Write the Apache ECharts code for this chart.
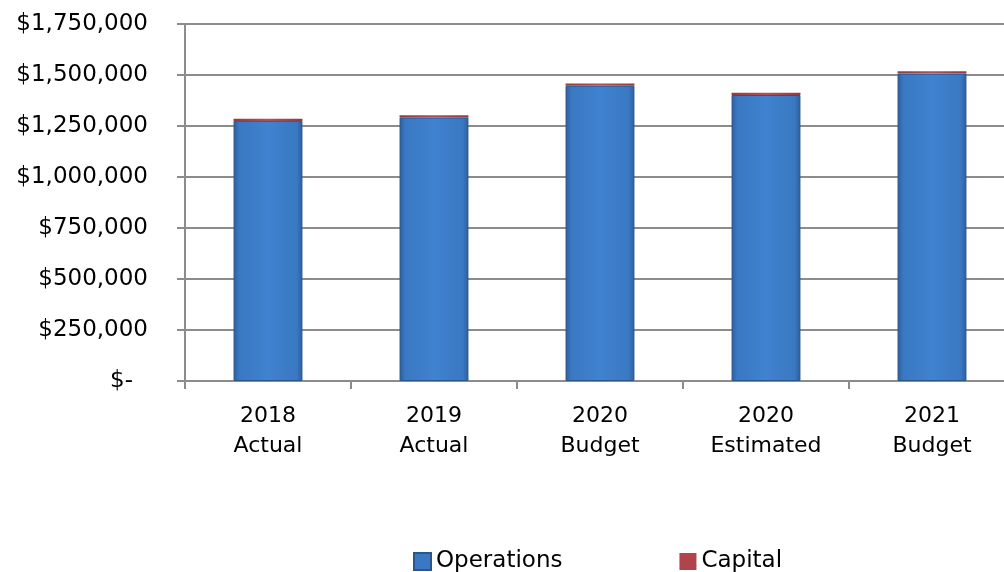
<!DOCTYPE html>
<html>
<head>
<meta charset="utf-8">
<script src="https://cdn.jsdelivr.net/npm/echarts@6/dist/echarts.min.js"></script>
<style>
  html, body { margin: 0; padding: 0; background: #fff; overflow: hidden; }
  #chart { width: 1015px; height: 572px; }
</style>
</head>
<body>
<div id="chart"></div>
<script>
const categories = ['2018\nActual', '2019\nActual', '2020\nBudget', '2020\nEstimated', '2021\nBudget'];
const operations = [1275000, 1292000, 1447000, 1402000, 1507000];
const capital = [10000, 11000, 11000, 11000, 11000];

const yMax = 1750000;
const yStep = 250000;

const chart = echarts.init(document.getElementById('chart'));

const fontFamily = 'DejaVu Sans';

function money(v) {
    if (v === 0) return '{z|$-}';
    return '$' + v.toLocaleString('en-US');
}

const opsColor = new echarts.graphic.LinearGradient(0, 0, 1, 0, [
    { offset: 0, color: '#2b5e9c' },
    { offset: 0.08, color: '#3a78c2' },
    { offset: 0.5, color: '#3f82cf' },
    { offset: 0.92, color: '#3a78c2' },
    { offset: 1, color: '#2b5e9c' }
]);
const capColor = new echarts.graphic.LinearGradient(0, 0, 1, 0, [
    { offset: 0, color: '#8e3c44' },
    { offset: 0.5, color: '#b0505a' },
    { offset: 1, color: '#8e3c44' }
]);

const option = {
    animation: false,
    textStyle: { fontFamily: fontFamily },
    grid: { left: 185, right: 0, top: 24, height: 357, containLabel: false },
    legend: {
        top: 545,
        left: 408,
        itemWidth: 17,
        itemHeight: 17,
        itemGap: 117,
        icon: 'rect',
        textStyle: { fontSize: 23, color: '#000', fontFamily: fontFamily },
        data: [
            { name: 'Operations', itemStyle: { color: '#3a78c2' } },
            { name: 'Capital', itemStyle: { color: '#b0434b' } }
        ]
    },
    xAxis: {
        type: 'category',
        data: categories,
        axisLine: { lineStyle: { color: '#8c8c8c', width: 2 } },
        axisTick: { show: true, length: 8, lineStyle: { color: '#8c8c8c', width: 2 } },
        axisLabel: { color: '#000', fontSize: 22, lineHeight: 30, margin: 20 }
    },
    yAxis: {
        type: 'value',
        min: 0,
        max: yMax,
        interval: yStep,
        axisLine: { show: true, lineStyle: { color: '#8c8c8c', width: 2 } },
        axisTick: { show: true, length: 8, lineStyle: { color: '#8c8c8c', width: 2 } },
        splitLine: { lineStyle: { color: '#8c8c8c', width: 2 } },
        axisLabel: {
            color: '#000',
            fontSize: 23,
            margin: 37,
            formatter: money,
            rich: { z: { fontSize: 23, color: '#000', padding: [0, 15, 0, 0] } }
        }
    },
    series: [
        {
            name: 'Operations',
            type: 'bar',
            stack: 'total',
            barWidth: '41.5%',
            data: operations,
            itemStyle: { color: opsColor, borderColor: '#2a568c', borderWidth: 1 }
        },
        {
            name: 'Capital',
            type: 'bar',
            stack: 'total',
            data: capital,
            itemStyle: { color: capColor }
        }
    ]
};

chart.setOption(option);
</script>
</body>
</html>
